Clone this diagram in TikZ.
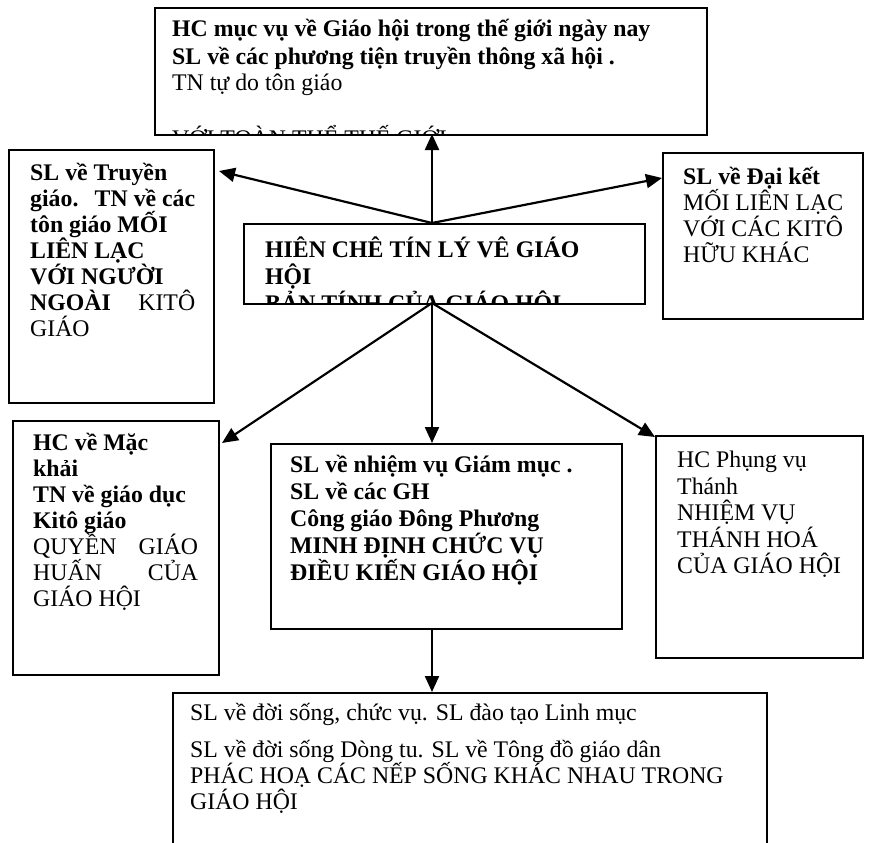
\documentclass[tikz,border=0pt]{standalone}
\usepackage{fontspec}
\setmainfont{Liberation Serif}
\usetikzlibrary{arrows.meta}
\tikzset{
  box/.style={draw, line width=1.7pt, rectangle, inner sep=0pt, anchor=north west},
  txt/.style={anchor=base west, inner sep=0pt, font=\fontsize{23.8}{27}\selectfont},
  btxt/.style={anchor=base west, inner sep=0pt, font=\fontsize{23.8}{27}\selectfont\bfseries},
  arr/.style={line width=2.2pt, -{Triangle[length=16pt,width=14pt]}},
}
\begin{document}
\begin{tikzpicture}[x=1pt, y=-1pt]
\clip (0,0) rectangle (870,843);
\fill[white] (0,0) rectangle (870,843);

% boxes
\node[box, minimum width=552pt, minimum height=127pt] (top) at (154,7) {};
\node[box, minimum width=205pt, minimum height=253pt] (left) at (8,149) {};
\node[box, minimum width=401pt, minimum height=80pt] (center) at (243,223) {};
\node[box, minimum width=200pt, minimum height=166pt] (right) at (662,152) {};
\node[box, minimum width=206pt, minimum height=254pt] (lleft) at (12,420) {};
\node[box, minimum width=351pt, minimum height=185pt] (lcenter) at (270,443) {};
\node[box, minimum width=207pt, minimum height=222pt] (lright) at (655,435) {};
\node[box, minimum width=594pt, minimum height=200pt] (bottom) at (172,692) {};

% top box text
\begin{scope}
\clip (top.north west) rectangle (top.south east);
\node[btxt] (t1) at (172,37) {HC mục vụ về Giáo hội trong thế giới ngày nay};
\node[btxt] (t2) at (172,64) {SL về các phương tiện truyền thông xã hội .};
\node[txt] (t3) at (172,91) {TN tự do tôn giáo};
\node[txt] (t4) at (172,146) {VỚI TOÀN THỂ THẾ GIỚI};
\end{scope}

% left box text
\node[btxt] (l1) at (30,180) {SL về Truyền};
\node[btxt] (l2) at (30,206) {\hbox to 165pt{giáo.\hfill TN về các}};
\node[btxt] (l3) at (30,232) {tôn giáo MỐI};
\node[btxt] (l4) at (30,258) {LIÊN LẠC};
\node[btxt] (l5) at (30,284) {VỚI NGƯỜI};
\node[btxt] (l6) at (30,310) {\hbox to 165pt{NGOÀI\hfill{\mdseries KITÔ}}};
\node[txt] (l7) at (30,336) {GIÁO};

% center box text
\begin{scope}
\clip (center.north west) rectangle (center.south east);
\node[btxt] (c1) at (265,257) {HIÊN CHÊ TÍN LÝ VÊ GIÁO};
\node[btxt] (c2) at (265,284) {HỘI};
\node[btxt] (c3) at (265,311) {BẢN TÍNH CỦA GIÁO HỘI};
\end{scope}

% right box text
\node[btxt] (r1) at (683,184) {SL về Đại kết};
\node[txt] (r2) at (683,210) {MỐI LIÊN LẠC};
\node[txt] (r3) at (683,236) {VỚI CÁC KITÔ};
\node[txt] (r4) at (683,262) {HỮU KHÁC};

% lower left text
\node[btxt] (ll1) at (33,450) {HC về Mặc};
\node[btxt] (ll2) at (33,476) {khải};
\node[btxt] (ll3) at (33,502) {TN về giáo dục};
\node[btxt] (ll4) at (33,528) {Kitô giáo};
\node[txt] (ll5) at (33,554) {\hbox to 165pt{QUYỀN\hfill GIÁO}};
\node[txt] (ll6) at (33,580) {\hbox to 165pt{HUẤN\hfill CỦA}};
\node[txt] (ll7) at (33,606) {GIÁO HỘI};

% lower center text
\node[btxt] (lc1) at (290,472) {SL về nhiệm vụ Giám mục .};
\node[btxt] (lc2) at (290,499) {SL về các GH};
\node[btxt] (lc3) at (290,526) {Công giáo Đông Phương};
\node[btxt] (lc4) at (290,553) {MINH ĐỊNH CHỨC VỤ};
\node[btxt] (lc5) at (290,580) {ĐIỀU KIẾN GIÁO HỘI};

% lower right text
\node[txt] (lr1) at (677,467) {HC Phụng vụ};
\node[txt] (lr2) at (677,494) {Thánh};
\node[txt] (lr3) at (677,520) {NHIỆM VỤ};
\node[txt] (lr4) at (677,547) {THÁNH HOÁ};
\node[txt] (lr5) at (677,573) {CỦA GIÁO HỘI};

% bottom text
\node[txt] (b1) at (190,720) {SL về đời sống, chức vụ. SL đào tạo Linh mục};
\node[txt] (b2) at (190,757) {SL về đời sống Dòng tu. SL về Tông đồ giáo dân};
\node[txt] (b3) at (190,783) {PHÁC HOẠ CÁC NẾP SỐNG KHÁC NHAU TRONG};
\node[txt] (b4) at (190,809) {GIÁO HỘI};

% connector points
\coordinate (hubA) at (432,223);
\coordinate (hubB) at (432,303);
\coordinate (hubC) at (432,628);
\coordinate (tipTop) at (432,134);
\coordinate (tipLeft) at (219,171);
\coordinate (tipRight) at (662,178);
\coordinate (tipLL) at (222,443);
\coordinate (tipLC) at (432,443);
\coordinate (tipLR) at (655,437);
\coordinate (tipBot) at (432,692);

\draw[arr] (hubA) -- (tipTop);
\draw[arr] (hubA) -- (tipLeft);
\draw[arr] (hubA) -- (tipRight);
\draw[arr] (hubB) -- (tipLL);
\draw[arr] (hubB) -- (tipLC);
\draw[arr] (hubB) -- (tipLR);
\draw[arr] (hubC) -- (tipBot);
\end{tikzpicture}
\end{document}
